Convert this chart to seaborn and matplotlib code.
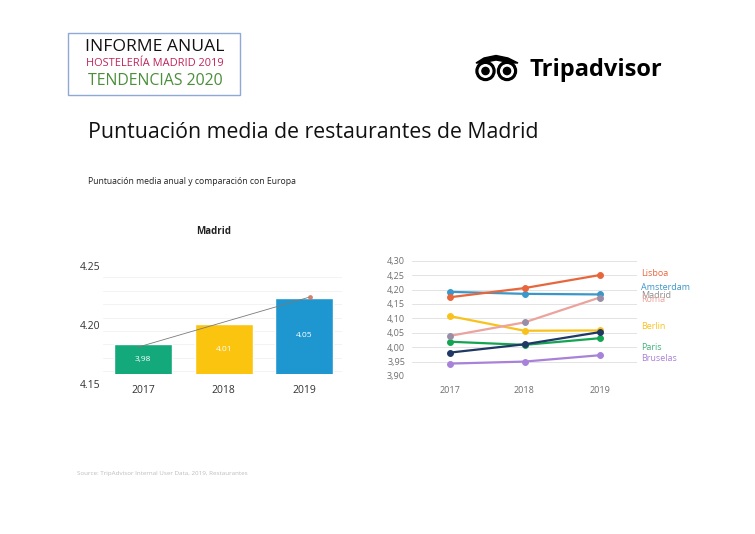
import numpy as np
import pandas as pd
import matplotlib
matplotlib.use("Agg")
import matplotlib.pyplot as plt
from matplotlib.patches import Rectangle, Circle
import seaborn as sns

# ---------------- data ----------------
years = ["2017", "2018", "2019"]
madrid_values = [3.98, 4.01, 4.05]
madrid_bar_labels = ["3,98", "4.01", "4.05"]
madrid_bar_colors = ["#13a97b", "#fbc40f", "#1e97d0"]
left_scale_ticks = [4.15, 4.20, 4.25]

cities = ["Lisboa", "Amsterdam", "Madrid", "Roma", "Berlin", "Paris", "Bruselas"]
lisboa = [4.173, 4.205, 4.250]
amsterdam = [4.192, 4.185, 4.183]
madrid = [3.981, 4.010, 4.052]
roma = [4.039, 4.086, 4.172]
berlin = [4.108, 4.057, 4.058]
paris = [4.019, 4.008, 4.031]
bruselas = [3.943, 3.950, 3.972]
city_values = [lisboa, amsterdam, madrid, roma, berlin, paris, bruselas]
city_colors = ["#e8663c", "#3a97c9", "#1f3864", "#eba39e", "#f9c21b", "#14a553", "#a882d8"]
label_colors = ["#e8663c", "#3a97c9", "#8c8c8c", "#eba39e", "#f9c21b", "#3fb37a", "#a882d8"]
label_positions = [4.256, 4.208, 4.181, 4.166, 4.073, 4.000, 3.960]
right_ticks = [3.90, 3.95, 4.00, 4.05, 4.10, 4.15, 4.20, 4.25, 4.30]

# ---------------- figure ----------------
W, H = 755, 534
sns.set_theme(style="white")
plt.rcParams["font.family"] = ["Open Sans", "DejaVu Sans"]
fig = plt.figure(figsize=(W / 100, H / 100), dpi=100)


def rect(x0, y0, x1, y1):
    return [x0 / W, 1 - y1 / H, (x1 - x0) / W, (y1 - y0) / H]


# overlay for header decorations (pixel coordinates)
ov = fig.add_axes([0, 0, 1, 1], zorder=0)
ov.set_xlim(0, W)
ov.set_ylim(H, 0)
ov.axis("off")
ov.patch.set_alpha(0)

ov.add_patch(Rectangle((68, 33), 172, 62, fill=False, edgecolor="#8fa9d6", lw=1))
ov.text(155, 47, "INFORME ANUAL", ha="center", va="center", fontsize=12.6, color="#111111")
ov.text(155, 64, "HOSTELERÍA MADRID 2019", ha="center", va="center", fontsize=7.9, color="#c0245a")
ov.text(155, 81, "TENDENCIAS 2020", ha="center", va="center", fontsize=11.4, color="#4a8f3a")

# tripadvisor owl
ov.fill([476, 484, 496, 508, 518, 512, 496, 481], [63, 58, 55.5, 58, 63, 63, 60, 63], color="black")
for cx in (485.5, 507):
    ov.add_patch(Circle((cx, 71), 9.5, color="black"))
    ov.add_patch(Circle((cx, 71), 6.3, color="white"))
    ov.add_patch(Circle((cx, 71), 3.6, color="black"))
ov.text(529, 70, "Tripadvisor", ha="left", va="center", fontsize=17, fontweight="bold", color="black")

ov.text(88, 133, "Puntuación media de restaurantes de Madrid", ha="left", va="center",
        fontsize=15.3, color="#111111")
ov.text(88, 181, "Puntuación media anual y comparación con Europa", ha="left", va="center",
        fontsize=6.2, color="#222222")
ov.text(77, 474, "Source: TripAdvisor Internal User Data, 2019, Restaurantes", ha="left", va="center",
        fontsize=4.5, color="#bdbdbd")
ov.text(214, 232, "Madrid", ha="center", va="center", fontsize=7, fontweight="bold", color="#222222")

# ---------------- left: Madrid bar chart ----------------
ax_scale = fig.add_axes(rect(103, 266, 342, 384), zorder=1)
ax_scale.set_ylim(left_scale_ticks[0], left_scale_ticks[-1])
ax_scale.set_yticks(left_scale_ticks)
ax_scale.set_yticklabels([f"{t:.2f}" for t in left_scale_ticks])
ax_scale.tick_params(axis="y", labelsize=7.5, colors="#333333", length=0, pad=2)
ax_scale.set_xticks([])
for s in ax_scale.spines.values():
    s.set_visible(False)
ax_scale.patch.set_alpha(0)

axb = fig.add_axes(rect(103, 266, 342, 374), zorder=2)
axb.patch.set_alpha(0)
df_bar = pd.DataFrame({"year": years, "value": madrid_values})
sns.barplot(data=df_bar, x="year", y="value", hue="year", palette=madrid_bar_colors,
            legend=False, width=0.72, ax=axb, saturation=1)
axb.set_xlim(-0.5, 2.47)
axb.set_ylim(3.936, 4.097)
axb.set_yticks(np.arange(3.94, 4.10, 0.02))
axb.yaxis.grid(True, color="#f1f1f1", lw=0.6)
axb.set_axisbelow(True)
axb.tick_params(axis="y", labelleft=False, length=0)
axb.tick_params(axis="x", labelsize=7.5, colors="#333333", length=0, pad=8)
axb.set_xlabel("")
axb.set_ylabel("")
for s in axb.spines.values():
    s.set_visible(False)
bars = [p for p in axb.patches]
for bar, lab in zip(bars, madrid_bar_labels):
    cx = bar.get_x() + bar.get_width() / 2
    cy = (axb.get_ylim()[0] + bar.get_height()) / 2
    axb.text(cx, cy, lab, ha="center", va="center", color="white", fontsize=6)

# trend line
xi = np.arange(len(madrid_values))
slope, icpt = np.polyfit(xi, madrid_values, 1)
xt = np.array([-0.07, 2.07])
axb.plot(xt, icpt + slope * xt, color="#7a7a7a", lw=0.6, zorder=5)
axb.plot([xt[-1]], [icpt + slope * xt[-1]], "o", color="#c9735e", ms=2.5, zorder=6, alpha=0.8)

# ---------------- right: European comparison ----------------
axl = fig.add_axes(rect(412, 260.7, 637, 376), zorder=2)
axl.patch.set_alpha(0)
rows = []
for c, vals in zip(cities, city_values):
    for y, v in zip(years, vals):
        rows.append({"city": c, "year": y, "value": v})
df_lines = pd.DataFrame(rows)
draw_order = ["Bruselas", "Paris", "Berlin", "Amsterdam", "Lisboa", "Roma", "Madrid"]
cmap = dict(zip(cities, city_colors))
for c in draw_order:
    sub = df_lines[df_lines.city == c]
    mec = "#9a8ea6" if c == "Roma" else cmap[c]
    sns.lineplot(data=sub, x="year", y="value", color=cmap[c], lw=1.6, marker="o",
                 markersize=4.2, markeredgecolor=mec, markerfacecolor=mec,
                 ax=axl, sort=False)
axl.set_xlim(-0.5, 2.5)
axl.set_ylim(3.90, 4.30)
axl.set_yticks(right_ticks)
axl.set_yticklabels([f"{t:.2f}".replace(".", ",") for t in right_ticks])
axl.yaxis.grid(True, color="#e3e3e3", lw=0.7)
axl.set_axisbelow(True)
axl.tick_params(axis="y", labelsize=6.5, colors="#6f6f6f", length=0, pad=5)
axl.tick_params(axis="x", labelsize=6.5, colors="#6f6f6f", length=0, pad=7)
axl.set_xlabel("")
axl.set_ylabel("")
for s in axl.spines.values():
    s.set_visible(False)
for c, col, ypos in zip(cities, label_colors, label_positions):
    axl.text(2.55, ypos, c, ha="left", va="center", color=col, fontsize=6.5, clip_on=False)

fig.savefig("out.png", dpi=100)
